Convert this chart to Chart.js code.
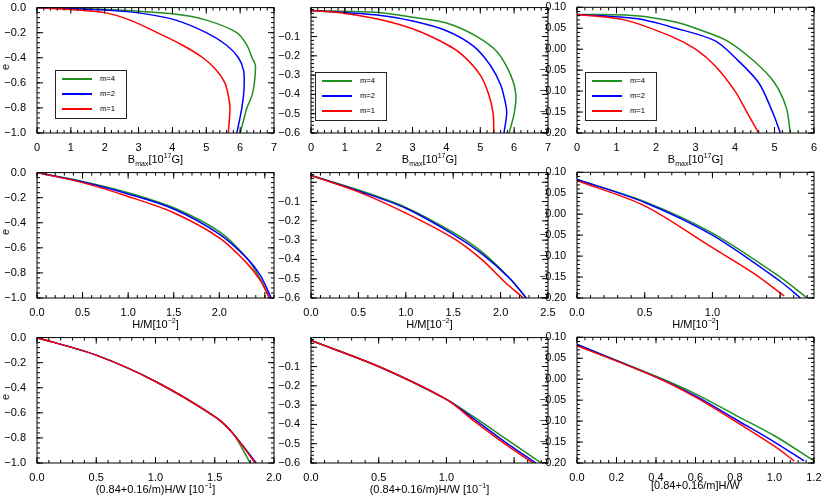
<!DOCTYPE html>
<html>
<head>
<meta charset="utf-8">
<script src="https://cdn.jsdelivr.net/npm/chart.js@4"></script>
<style>
  body { margin: 0; background: #fff; font-family: "Liberation Sans", Arial, sans-serif; }
  #wrap { position: relative; width: 822px; height: 495px; }
  canvas { position: absolute; }
  .xt { position: absolute; font-size: 11px; color: #000; text-align: center; width: 240px; line-height: 13px; }
  .yt { position: absolute; font-size: 11px; transform: rotate(-90deg); }
  .leg { position: absolute; border: 1px solid #222; background: #fff; font-size: 7.5px; width: 70px; height: 47px; }
  .leg div { height: 13px; margin-top: 2px; position: relative; }
  .leg i { position: absolute; left: 6px; top: 5px; width: 30px; height: 0; border-top: 2px solid; }
  .leg span { position: absolute; left: 44px; top: 1px; }
</style>
</head>
<body>
<div id="wrap"></div>
<script>
// colours for m=1, m=2, m=4
const colors = ['#ff0000', '#0000ff', '#1f8f1f'];
const seriesNames = ['m=1', 'm=2', 'm=4'];

// Row 1: Bmax [10^17 G] vs e
const b1x = [[0,1,2,2.75,3.55,4.3,4.9,5.3,5.55,5.65,5.7,5.68,5.65],[0,2,3.2,4.1,5.0,5.6,5.95,6.1,6.12,6.1,6.05,5.98,5.9],[0,2,4.0,5.0,5.9,6.2,6.35,6.45,6.42,6.35,6.2,6.1,6.0]];
const b1y = [[0,-0.015,-0.04,-0.1,-0.2,-0.3,-0.4,-0.5,-0.6,-0.7,-0.8,-0.9,-1.0],[0,-0.02,-0.05,-0.1,-0.2,-0.3,-0.4,-0.5,-0.6,-0.7,-0.8,-0.9,-1.0],[0,-0.015,-0.05,-0.1,-0.2,-0.3,-0.4,-0.46,-0.6,-0.7,-0.8,-0.9,-1.0]];
const b2x = [[0,1,2,3,4,4.5,5,5.25,5.38,5.4],[0,2,3,4,4.8,5.3,5.6,5.75,5.78,5.7],[0,2,3,4,4.9,5.5,5.9,6.05,6.0,5.85]];
const b2y = [[0.035,0.02,-0.01,-0.06,-0.14,-0.2,-0.3,-0.4,-0.5,-0.6],[0.035,0.01,-0.02,-0.07,-0.15,-0.25,-0.35,-0.45,-0.5,-0.6],[0.035,0.025,0,-0.03,-0.1,-0.18,-0.3,-0.4,-0.5,-0.6]];
const b3x = [[0,1.2,2.4,3,3.5,4,4.3,4.6],[0,1.5,2.5,3.5,4,4.6,4.95,5.15],[0,1.5,2.5,3,3.8,4.5,5,5.3,5.4]];
const b3y = [[0.083,0.07,0.03,0,-0.04,-0.1,-0.15,-0.2],[0.083,0.073,0.05,0.02,-0.02,-0.08,-0.15,-0.2],[0.083,0.08,0.065,0.05,0.02,-0.03,-0.08,-0.14,-0.2]];

// Row 2: H/M [10^-2] vs e
const h1x = [[0,0.5,1,1.5,2,2.3,2.45,2.55],[0,0.5,1,1.5,2,2.3,2.45,2.57],[0,0.5,1,1.5,2,2.3,2.45,2.55]];
const h1y = [[0,-0.08,-0.19,-0.32,-0.52,-0.72,-0.86,-1.0],[0,-0.075,-0.17,-0.29,-0.49,-0.68,-0.82,-1.0],[0,-0.07,-0.16,-0.28,-0.47,-0.68,-0.85,-1.0]];
const h2x = [[0,0.5,1,1.5,1.8,2.05,2.24],[0,0.5,1,1.5,1.8,2.1,2.27],[0,0.5,1,1.5,1.8,2.1,2.27]];
const h2y = [[0.035,-0.05,-0.16,-0.29,-0.4,-0.52,-0.6],[0.035,-0.045,-0.135,-0.27,-0.37,-0.5,-0.6],[0.035,-0.04,-0.13,-0.26,-0.36,-0.5,-0.6]];
const h3x = [[0,0.5,1,1.3,1.53],[0,0.5,1,1.5,1.65],[0,0.5,1,1.5,1.7]];
const h3y = [[0.08,0.02,-0.08,-0.14,-0.195],[0.083,0.028,-0.05,-0.16,-0.2],[0.083,0.03,-0.045,-0.15,-0.2]];

// Row 3: (0.84+0.16/m)H/W vs e
const w1x = [[0,0.5,1,1.5,1.65,1.84],[0,0.5,1,1.5,1.65,1.85],[0,0.5,1,1.5,1.65,1.8]];
const w1y = [[0,-0.14,-0.35,-0.63,-0.76,-1.0],[0,-0.14,-0.35,-0.63,-0.76,-1.0],[0,-0.14,-0.35,-0.63,-0.76,-1.0]];
const w2x = [[0,0.5,1,1.2,1.45,1.64],[0,0.5,1,1.2,1.45,1.66],[0,0.5,1,1.2,1.45,1.7]];
const w2y = [[0.035,-0.1,-0.27,-0.38,-0.51,-0.6],[0.035,-0.1,-0.27,-0.37,-0.5,-0.6],[0.035,-0.1,-0.27,-0.36,-0.48,-0.6]];
const w3x = [[0,0.4,0.6,0.8,1.0,1.1],[0,0.4,0.6,0.8,1.0,1.15],[0,0.4,0.6,0.8,1.0,1.2]];
const w3y = [[0.08,0.005,-0.043,-0.1,-0.16,-0.195],[0.083,0.005,-0.04,-0.095,-0.15,-0.195],[0.083,0.007,-0.035,-0.085,-0.135,-0.195]];

// y ranges per column: [min, max, step, decimals]
const yCols = [[-1, 0, 0.2, 1], [-0.6, 0.05, 0.1, 1], [-0.2, 0.1, 0.05, 2]];
// x ranges per panel: [max, step, decimals]
const xRanges = [
  [[7, 1, 0], [7, 1, 0], [6, 1, 0]],
  [[2.6, 0.5, 1], [2.5, 0.5, 1], [1.75, 0.5, 1]],
  [[2.0, 0.5, 1], [1.75, 0.5, 1], [1.2, 0.2, 1]]
];
const xTitles = [
  'B<sub style="font-size:7px">max</sub>[10<sup style="font-size:7px">17</sup>G]',
  'H/M[10<sup style="font-size:7px">&minus;2</sup>]',
  '(0.84+0.16/m)H/W [10<sup style="font-size:7px">&minus;1</sup>]'
];
const xTitle33 = '[0.84+0.16/m]H/W';
const panels = [[[b1x,b1y],[b2x,b2y],[b3x,b3y]],[[h1x,h1y],[h2x,h2y],[h3x,h3y]],[[w1x,w1y],[w2x,w2y],[w3x,w3y]]];

const plotLeft = [37, 311, 577];
const plotTop = [4, 169, 334];
const plotW = 237, plotH = 129;
const padL = 40, padT = 6, padR = 10, padB = 22;

// inward major/minor ticks on all four sides
const innerTicks = {
  id: 'innerTicks',
  afterDraw(chart, args, opts) {
    const ctx = chart.ctx, a = chart.chartArea;
    const xs = chart.scales.x, ys = chart.scales.y;
    ctx.save();
    ctx.strokeStyle = '#000';
    ctx.lineWidth = 1;
    ctx.strokeRect(a.left, a.top, a.right - a.left, a.bottom - a.top);
    const mark = (scale, min, max, step, len, horiz) => {
      const n = Math.round((max - min) / step);
      for (let i = 0; i <= n + 1; i++) {
        const v = min + i * step;
        if (v > max + 1e-9) break;
        const p = scale.getPixelForValue(v);
        ctx.beginPath();
        if (horiz) {
          ctx.moveTo(p, a.bottom); ctx.lineTo(p, a.bottom - len);
          ctx.moveTo(p, a.top); ctx.lineTo(p, a.top + len);
        } else {
          ctx.moveTo(a.left, p); ctx.lineTo(a.left + len, p);
          ctx.moveTo(a.right, p); ctx.lineTo(a.right - len, p);
        }
        ctx.stroke();
      }
    };
    mark(xs, 0, xs.max, opts.xs, 6, true);
    mark(xs, 0, xs.max, opts.xs / 5, 3, true);
    mark(ys, ys.min, ys.max, opts.ys, 6, false);
    mark(ys, ys.min, ys.max, opts.ys / 5, 3, false);
    ctx.restore();
  }
};

// label only values on the step grid
const onStep = (v, step) => Math.abs(v / step - Math.round(v / step)) < 1e-6;

const wrap = document.getElementById('wrap');
for (let r = 0; r < 3; r++) {
  for (let c = 0; c < 3; c++) {
    const cv = document.createElement('canvas');
    const w = plotW + padL + padR, h = plotH + padT + padB;
    cv.style.left = (plotLeft[c] - padL) + 'px';
    cv.style.top = (plotTop[r] - padT) + 'px';
    cv.style.width = w + 'px';
    cv.style.height = h + 'px';
    cv.width = w; cv.height = h;
    wrap.appendChild(cv);

    const [xsArr, ysArr] = panels[r][c];
    const datasets = xsArr.map((xv, i) => ({
      label: seriesNames[i],
      data: xv.map((x, k) => ({ x: x, y: ysArr[i][k] })),
      borderColor: colors[i],
      borderWidth: 1.5,
      pointRadius: 0,
      showLine: true,
      tension: 0.3,
      fill: false
    }));
    const yc = yCols[c], xr = xRanges[r][c];
    new Chart(cv, {
      type: 'scatter',
      data: { datasets: datasets },
      options: {
        responsive: false,
        animation: false,
        layout: { padding: { left: 0, top: padT, right: padR, bottom: 0 } },
        plugins: { legend: { display: false }, tooltip: { enabled: false }, innerTicks: { xs: xr[1], ys: yc[2] } },
        scales: {
          x: {
            type: 'linear', min: 0, max: xr[0],
            grid: { display: false },
            border: { display: false },
            ticks: {
              stepSize: xr[1], color: '#000', font: { size: 11, family: 'Liberation Sans' }, padding: 0, maxRotation: 0,
              autoSkip: false,
              callback: v => onStep(v, xr[1]) ? v.toFixed(xr[2]) : null
            },
            afterFit: s => { s.height = padB; }
          },
          y: {
            min: yc[0], max: yc[1],
            grid: { display: false },
            border: { display: false },
            ticks: {
              stepSize: yc[2], color: '#000', font: { size: c === 2 ? 10.5 : 11, family: 'Liberation Sans' }, padding: 3,
              autoSkip: false,
              callback: v => {
                if (!onStep(v, yc[2])) return null;
                const s = Math.abs(v).toFixed(yc[3]);
                return v < -1e-9 ? '\u2212' + s : s;
              }
            },
            afterFit: s => { s.width = padL; }
          }
        }
      },
      plugins: [innerTicks]
    });

    const t = document.createElement('div');
    t.className = 'xt';
    t.style.left = (plotLeft[c] + plotW / 2 - 120) + 'px';
    t.style.top = (plotTop[r] + plotH + 16) + 'px';
    t.innerHTML = (r === 2 && c === 2) ? xTitle33 : xTitles[r];
    wrap.appendChild(t);

    if (r === 0) {
      const lg = document.createElement('div');
      lg.className = 'leg';
      lg.style.left = [55, 315, 585][c] + 'px';
      lg.style.top = [70, 72, 72][c] + 'px';
      lg.innerHTML = [2, 1, 0].map(i =>
        '<div><i style="border-color:' + colors[i] + '"></i><span>' + seriesNames[i] + '</span></div>').join('');
      wrap.appendChild(lg);
    }
  }
  const e = document.createElement('div');
  e.className = 'yt';
  e.style.left = '2px';
  e.style.top = (plotTop[r] + plotH / 2 - 8) + 'px';
  e.textContent = 'e';
  wrap.appendChild(e);
}
</script>
</body>
</html>
